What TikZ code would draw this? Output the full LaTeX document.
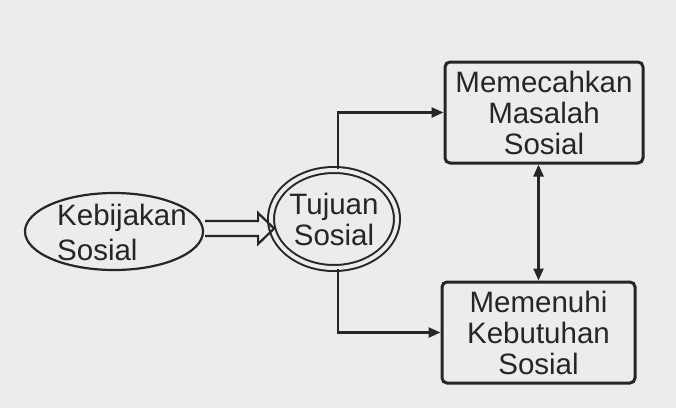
\documentclass[tikz,border=0pt]{standalone}
\usepackage{fontspec}
\setmainfont{Liberation Sans}
\usetikzlibrary{shapes.geometric,arrows.meta}
\definecolor{paper}{RGB}{236,236,234}
\definecolor{ink}{RGB}{38,38,38}
\begin{document}
\begin{tikzpicture}[x=1pt,y=-1pt,
  txt/.style={text=ink, font=\fontsize{29.5}{31}\selectfont, align=center, inner sep=0pt},
  boxnode/.style={txt, draw=ink, line width=3pt, rounded corners=5pt, minimum width=195pt, minimum height=100pt},
  conn/.style={draw=ink, line width=2.4pt, -{Triangle[length=12pt,width=10pt]}},
  conn2/.style={draw=ink, line width=2.4pt, {Triangle[length=12pt,width=10pt]}-{Triangle[length=12pt,width=10pt]}}
]
\fill[paper] (0,0) rectangle (676,408);
\useasboundingbox (0,0) rectangle (676,408);

\node[ellipse, draw=ink, line width=2.2pt, minimum width=178pt, minimum height=77pt, inner sep=0pt] (keb) at (114,231.5) {};
\node[txt, align=left, font=\fontsize{29.5}{35}\selectfont, anchor=west] (kebt) at (57,232) {Kebijakan\\Sosial};

\node[txt, ellipse, draw=ink, line width=2pt, double=paper, double distance=4pt, minimum width=124pt, minimum height=98pt] (tuj) at (334,219) {Tujuan\\Sosial};

\node[boxnode, minimum width=198pt, minimum height=101pt] (top) at (544,112.5) {Memecahkan\\Masalah\\Sosial};
\node[boxnode, minimum width=193pt, minimum height=101pt] (bot) at (538.5,332.5) {Memenuhi\\Kebutuhan\\Sosial};

\draw[ink, line width=2.2pt, line join=miter] (keb.east) ++(1,-10.5) -- ++(53,0) -- ++(0,-8) -- ++(16,15.5) -- ++(-16,15.5) -- ++(0,-8) -- ++(-53,0);

\draw[conn] ([xshift=4pt]tuj.north) |- (top.west);
\draw[conn] ([xshift=4pt]tuj.south) |- (bot.west);
\draw[conn2] (bot.north |- top.south) -- (bot.north);
\end{tikzpicture}
\end{document}
